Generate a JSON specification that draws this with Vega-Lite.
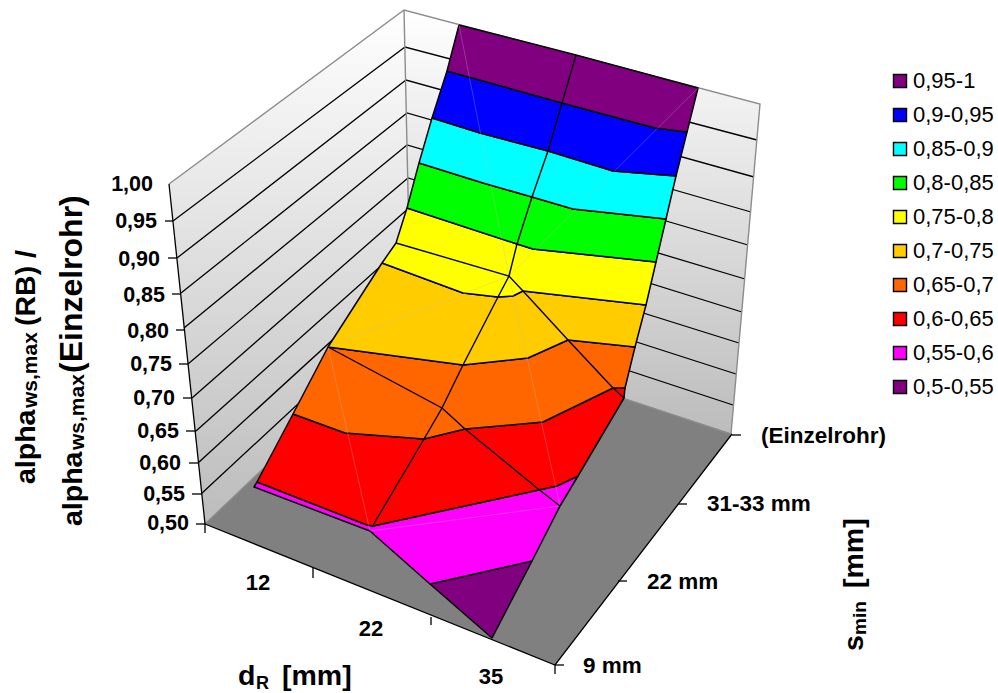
{
"$schema":"https://vega.github.io/schema/vega-lite/v6.json",
"width":998,"height":693,"padding":0,
"autosize":{"type":"fit","contains":"padding"},
"background":"white",
"config":{"view":{"stroke":null},"font":"Liberation Sans"},
"datasets":{
"walls":[
{"w":"left","o":1,"u":169,"v":184},{"w":"left","o":2,"u":404,"v":10},{"w":"left","o":3,"u":411,"v":328},{"w":"left","o":4,"u":205,"v":524},
{"w":"back","o":1,"u":404,"v":10},{"w":"back","o":2,"u":760,"v":104},{"w":"back","o":3,"u":731,"v":434},{"w":"back","o":4,"u":411,"v":328}],
"floor":[{"o":1,"u":205,"v":524},{"o":2,"u":411,"v":328},{"o":3,"u":732,"v":434},{"o":4,"u":555,"v":665}],
"grid":[
{"l":"0,95","o":1,"u":173,"v":221},{"l":"0,95","o":2,"u":405,"v":47},{"l":"0,95","o":3,"u":757,"v":140},
{"l":"0,90","o":1,"u":177,"v":258},{"l":"0,90","o":2,"u":406,"v":80},{"l":"0,90","o":3,"u":754,"v":177},
{"l":"0,85","o":1,"u":181,"v":293},{"l":"0,85","o":2,"u":407,"v":113},{"l":"0,85","o":3,"u":751,"v":212},
{"l":"0,80","o":1,"u":184,"v":328},{"l":"0,80","o":2,"u":407,"v":145},{"l":"0,80","o":3,"u":748,"v":245},
{"l":"0,75","o":1,"u":188,"v":364},{"l":"0,75","o":2,"u":408,"v":178},{"l":"0,75","o":3,"u":745,"v":279},
{"l":"0,70","o":1,"u":192,"v":398},{"l":"0,70","o":2,"u":409,"v":208},{"l":"0,70","o":3,"u":742,"v":312},
{"l":"0,65","o":1,"u":196,"v":431},{"l":"0,65","o":2,"u":410,"v":240},{"l":"0,65","o":3,"u":739,"v":343},
{"l":"0,60","o":1,"u":198,"v":463},{"l":"0,60","o":2,"u":410,"v":269},{"l":"0,60","o":3,"u":736,"v":374},
{"l":"0,55","o":1,"u":201,"v":494},{"l":"0,55","o":2,"u":411,"v":299},{"l":"0,55","o":3,"u":733,"v":405}],
"edges":[
{"l":"top","o":1,"u":169,"v":184},{"l":"top","o":2,"u":404,"v":10},{"l":"top","o":3,"u":760,"v":104},{"l":"top","o":4,"u":731,"v":434},
{"l":"corner","o":1,"u":404,"v":10},{"l":"corner","o":2,"u":411,"v":328},
{"l":"floorleft","o":1,"u":205,"v":524},{"l":"floorleft","o":2,"u":411,"v":328},{"l":"floorleft","o":3,"u":731,"v":434}],
"axes":[
{"l":"val","o":1,"u":169,"v":184},{"l":"val","o":2,"u":205,"v":524},
{"l":"front","o":1,"u":205,"v":524},{"l":"front","o":2,"u":555,"v":665},{"l":"front","o":3,"u":732,"v":434},
{"l":"t95","o":1,"u":165,"v":221},{"l":"t95","o":2,"u":173,"v":221},
{"l":"t90","o":1,"u":168,"v":258},{"l":"t90","o":2,"u":177,"v":258},
{"l":"t85","o":1,"u":172,"v":294},{"l":"t85","o":2,"u":181,"v":294},
{"l":"t80","o":1,"u":176,"v":330},{"l":"t80","o":2,"u":185,"v":330},
{"l":"t75","o":1,"u":179,"v":364},{"l":"t75","o":2,"u":188,"v":364},
{"l":"t70","o":1,"u":183,"v":398},{"l":"t70","o":2,"u":192,"v":398},
{"l":"t65","o":1,"u":186,"v":431},{"l":"t65","o":2,"u":196,"v":431},
{"l":"t60","o":1,"u":189,"v":463},{"l":"t60","o":2,"u":198,"v":463},
{"l":"t55","o":1,"u":192,"v":494},{"l":"t55","o":2,"u":201,"v":494},
{"l":"t50","o":1,"u":196,"v":524},{"l":"t50","o":2,"u":205,"v":524},
{"l":"d0","o":1,"u":205,"v":524},{"l":"d0","o":2,"u":205,"v":533},
{"l":"d1","o":1,"u":313,"v":568},{"l":"d1","o":2,"u":313,"v":578},
{"l":"d2","o":1,"u":431,"v":617},{"l":"d2","o":2,"u":431,"v":625},
{"l":"d3","o":1,"u":555,"v":665},{"l":"d3","o":2,"u":555,"v":674},
{"l":"s0","o":1,"u":555,"v":665},{"l":"s0","o":2,"u":564,"v":665},
{"l":"s1","o":1,"u":618,"v":581},{"l":"s1","o":2,"u":627,"v":581},
{"l":"s2","o":1,"u":678,"v":504},{"l":"s2","o":2,"u":687,"v":504},
{"l":"s3","o":1,"u":732,"v":435},{"l":"s3","o":2,"u":741,"v":435}],
"bands":[
{"b":"0,5-0,55","o":1,"u":430,"v":584},{"b":"0,5-0,55","o":2,"u":532,"v":561},{"b":"0,5-0,55","o":3,"u":492,"v":638},{"b":"0,5-0,55","o":4,"u":430,"v":584},
{"b":"0,55-0,6","o":1,"u":257,"v":482},{"b":"0,55-0,6","o":2,"u":367,"v":525},{"b":"0,55-0,6","o":3,"u":373,"v":526},{"b":"0,55-0,6","o":4,"u":557,"v":486},{"b":"0,55-0,6","o":5,"u":578,"v":476},{"b":"0,55-0,6","o":6,"u":560,"v":506},{"b":"0,55-0,6","o":7,"u":532,"v":561},{"b":"0,55-0,6","o":8,"u":430,"v":584},{"b":"0,55-0,6","o":9,"u":370,"v":531},{"b":"0,55-0,6","o":10,"u":254,"v":487},{"b":"0,55-0,6","o":11,"u":257,"v":482},
{"b":"0,6-0,65","o":1,"u":293,"v":414},{"b":"0,6-0,65","o":2,"u":345,"v":433},{"b":"0,6-0,65","o":3,"u":424,"v":439},{"b":"0,6-0,65","o":4,"u":465,"v":429},{"b":"0,6-0,65","o":5,"u":543,"v":422},{"b":"0,6-0,65","o":6,"u":613,"v":388},{"b":"0,6-0,65","o":7,"u":625,"v":388},{"b":"0,6-0,65","o":8,"u":624,"v":398},{"b":"0,6-0,65","o":9,"u":578,"v":476},{"b":"0,6-0,65","o":10,"u":557,"v":486},{"b":"0,6-0,65","o":11,"u":373,"v":526},{"b":"0,6-0,65","o":12,"u":367,"v":525},{"b":"0,6-0,65","o":13,"u":257,"v":482},{"b":"0,6-0,65","o":14,"u":293,"v":414},
{"b":"0,65-0,7","o":1,"u":328,"v":347},{"b":"0,65-0,7","o":2,"u":463,"v":365},{"b":"0,65-0,7","o":3,"u":528,"v":358},{"b":"0,65-0,7","o":4,"u":568,"v":340},{"b":"0,65-0,7","o":5,"u":635,"v":347},{"b":"0,65-0,7","o":6,"u":625,"v":388},{"b":"0,65-0,7","o":7,"u":613,"v":388},{"b":"0,65-0,7","o":8,"u":543,"v":422},{"b":"0,65-0,7","o":9,"u":465,"v":429},{"b":"0,65-0,7","o":10,"u":424,"v":439},{"b":"0,65-0,7","o":11,"u":345,"v":433},{"b":"0,65-0,7","o":12,"u":293,"v":414},{"b":"0,65-0,7","o":13,"u":328,"v":347},
{"b":"0,7-0,75","o":1,"u":382,"v":263},{"b":"0,7-0,75","o":2,"u":463,"v":293},{"b":"0,7-0,75","o":3,"u":498,"v":297},{"b":"0,7-0,75","o":4,"u":513,"v":296},{"b":"0,7-0,75","o":5,"u":523,"v":291},{"b":"0,7-0,75","o":6,"u":646,"v":305},{"b":"0,7-0,75","o":7,"u":635,"v":347},{"b":"0,7-0,75","o":8,"u":568,"v":340},{"b":"0,7-0,75","o":9,"u":528,"v":358},{"b":"0,7-0,75","o":10,"u":463,"v":365},{"b":"0,7-0,75","o":11,"u":328,"v":347},{"b":"0,7-0,75","o":12,"u":382,"v":263},
{"b":"0,75-0,8","o":1,"u":407,"v":208},{"b":"0,75-0,8","o":2,"u":517,"v":244},{"b":"0,75-0,8","o":3,"u":533,"v":249},{"b":"0,75-0,8","o":4,"u":656,"v":262},{"b":"0,75-0,8","o":5,"u":646,"v":305},{"b":"0,75-0,8","o":6,"u":523,"v":291},{"b":"0,75-0,8","o":7,"u":513,"v":296},{"b":"0,75-0,8","o":8,"u":498,"v":297},{"b":"0,75-0,8","o":9,"u":463,"v":293},{"b":"0,75-0,8","o":10,"u":382,"v":263},{"b":"0,75-0,8","o":11,"u":396,"v":243},{"b":"0,75-0,8","o":12,"u":407,"v":208},
{"b":"0,8-0,85","o":1,"u":419,"v":163},{"b":"0,8-0,85","o":2,"u":483,"v":183},{"b":"0,8-0,85","o":3,"u":532,"v":197},{"b":"0,8-0,85","o":4,"u":573,"v":209},{"b":"0,8-0,85","o":5,"u":666,"v":219},{"b":"0,8-0,85","o":6,"u":656,"v":262},{"b":"0,8-0,85","o":7,"u":533,"v":249},{"b":"0,8-0,85","o":8,"u":517,"v":244},{"b":"0,8-0,85","o":9,"u":407,"v":208},{"b":"0,8-0,85","o":10,"u":419,"v":163},
{"b":"0,85-0,9","o":1,"u":432,"v":118},{"b":"0,85-0,9","o":2,"u":480,"v":133},{"b":"0,85-0,9","o":3,"u":548,"v":151},{"b":"0,85-0,9","o":4,"u":613,"v":171},{"b":"0,85-0,9","o":5,"u":676,"v":176},{"b":"0,85-0,9","o":6,"u":666,"v":219},{"b":"0,85-0,9","o":7,"u":573,"v":209},{"b":"0,85-0,9","o":8,"u":532,"v":197},{"b":"0,85-0,9","o":9,"u":483,"v":183},{"b":"0,85-0,9","o":10,"u":419,"v":163},{"b":"0,85-0,9","o":11,"u":432,"v":118},
{"b":"0,9-0,95","o":1,"u":447,"v":71},{"b":"0,9-0,95","o":2,"u":562,"v":103},{"b":"0,9-0,95","o":3,"u":655,"v":128},{"b":"0,9-0,95","o":4,"u":687,"v":132},{"b":"0,9-0,95","o":5,"u":676,"v":176},{"b":"0,9-0,95","o":6,"u":613,"v":171},{"b":"0,9-0,95","o":7,"u":548,"v":151},{"b":"0,9-0,95","o":8,"u":480,"v":133},{"b":"0,9-0,95","o":9,"u":432,"v":118},{"b":"0,9-0,95","o":10,"u":447,"v":71},
{"b":"0,95-1","o":1,"u":459,"v":25},{"b":"0,95-1","o":2,"u":576,"v":55},{"b":"0,95-1","o":3,"u":698,"v":88},{"b":"0,95-1","o":4,"u":687,"v":132},{"b":"0,95-1","o":5,"u":655,"v":128},{"b":"0,95-1","o":6,"u":562,"v":103},{"b":"0,95-1","o":7,"u":447,"v":71},{"b":"0,95-1","o":8,"u":459,"v":25}],
"faint":[
{"l":"a","o":1,"u":459,"v":25},{"l":"a","o":2,"u":509,"v":276},{"l":"a","o":3,"u":560,"v":506},
{"l":"b","o":1,"u":698,"v":88},{"l":"b","o":2,"u":509,"v":276},{"l":"b","o":3,"u":328,"v":347},
{"l":"c","o":1,"u":328,"v":347},{"l":"c","o":2,"u":370,"v":531},
{"l":"d","o":1,"u":370,"v":531},{"l":"d","o":2,"u":560,"v":506}],
"mesh":[
{"l":"col","o":1,"u":576,"v":55},{"l":"col","o":2,"u":562,"v":103},{"l":"col","o":3,"u":548,"v":151},{"l":"col","o":4,"u":532,"v":197},{"l":"col","o":5,"u":517,"v":244},{"l":"col","o":6,"u":509,"v":276},{"l":"col","o":7,"u":498,"v":297},{"l":"col","o":8,"u":463,"v":365},{"l":"col","o":9,"u":442,"v":408},{"l":"col","o":10,"u":424,"v":439},{"l":"col","o":11,"u":372,"v":527},
{"l":"row1","o":1,"u":396,"v":243},{"l":"row1","o":2,"u":509,"v":276},{"l":"row1","o":3,"u":523,"v":291},{"l":"row1","o":4,"u":568,"v":340},{"l":"row1","o":5,"u":613,"v":388},{"l":"row1","o":6,"u":624,"v":398},
{"l":"row2","o":1,"u":328,"v":347},{"l":"row2","o":2,"u":442,"v":408},{"l":"row2","o":3,"u":465,"v":429},{"l":"row2","o":4,"u":537,"v":488},{"l":"row2","o":5,"u":560,"v":506}],
"ticklabels":[
{"t":"1,00","u":153,"v":185},{"t":"0,95","u":157,"v":222},{"t":"0,90","u":160,"v":260},{"t":"0,85","u":165,"v":296},{"t":"0,80","u":169,"v":332},{"t":"0,75","u":172,"v":365},{"t":"0,70","u":175,"v":399},{"t":"0,65","u":179,"v":432},{"t":"0,60","u":181,"v":464},{"t":"0,55","u":185,"v":495},{"t":"0,50","u":189,"v":524}],
"dlabels":[{"t":"12","u":258,"v":583},{"t":"22","u":371,"v":629},{"t":"35","u":491,"v":677}],
"slabels":[{"t":"(Einzelrohr)","u":761,"v":436},{"t":"31-33 mm","u":707,"v":504},{"t":"22 mm","u":647,"v":582},{"t":"9 mm","u":583,"v":666}],
"titleBig":[{"t":"d","u":238,"v":685},{"t":"[mm]","u":282,"v":685}],
"titleSub":[{"t":"R","u":256,"v":689}],
"rotBig":[{"t":"alpha","u":35,"v":484},{"t":"(RB) /","u":35,"v":326},{"t":"alpha","u":82,"v":526},{"t":"s","u":863,"v":651},{"t":"[mm]","u":863,"v":588}],
"rotWide":[{"t":"(Einzelrohr)","u":82,"v":373}],
"rotSub":[{"t":"ws,max","u":37,"v":408},{"t":"ws,max","u":84,"v":450}],
"rotSubSmall":[{"t":"min","u":866,"v":635}]
},
"layer":[
{"data":{"name":"walls"},"transform":[{"filter":"datum.w==='left'"}],"mark":{"type":"line","strokeWidth":0,"fill":{"gradient":"linear","x1":0,"y1":0,"x2":0,"y2":1,"stops":[{"offset":0,"color":"#ffffff"},{"offset":1,"color":"#bcbcbc"}]}},"encoding":{"x":{"field":"u","type":"quantitative","scale":{"domain":[0,998],"nice":false,"zero":false},"axis":null},"y":{"field":"v","type":"quantitative","scale":{"domain":[693,0],"nice":false,"zero":false},"axis":null},"order":{"field":"o"}}},
{"data":{"name":"walls"},"transform":[{"filter":"datum.w==='back'"}],"mark":{"type":"line","strokeWidth":0,"fill":{"gradient":"linear","x1":0,"y1":0,"x2":0,"y2":1,"stops":[{"offset":0,"color":"#ffffff"},{"offset":1,"color":"#bcbcbc"}]}},"encoding":{"x":{"field":"u","type":"quantitative","axis":null},"y":{"field":"v","type":"quantitative","axis":null},"order":{"field":"o"}}},
{"data":{"name":"grid"},"mark":{"type":"line","color":"#000000","strokeWidth":1.3},"encoding":{"x":{"field":"u","type":"quantitative"},"y":{"field":"v","type":"quantitative"},"detail":{"field":"l"},"order":{"field":"o"}}},
{"data":{"name":"floor"},"mark":{"type":"line","strokeWidth":0,"fill":"#808080"},"encoding":{"x":{"field":"u","type":"quantitative"},"y":{"field":"v","type":"quantitative"},"order":{"field":"o"}}},
{"data":{"name":"edges"},"mark":{"type":"line","color":"#8c8c8c","strokeWidth":1.4},"encoding":{"x":{"field":"u","type":"quantitative"},"y":{"field":"v","type":"quantitative"},"detail":{"field":"l"},"order":{"field":"o"}}},
{"data":{"name":"axes"},"mark":{"type":"line","color":"#000000","strokeWidth":1.3},"encoding":{"x":{"field":"u","type":"quantitative"},"y":{"field":"v","type":"quantitative"},"detail":{"field":"l"},"order":{"field":"o"}}},
{"data":{"name":"bands"},"mark":{"type":"line","stroke":"#000000","strokeWidth":1.5,"strokeJoin":"round"},"encoding":{"x":{"field":"u","type":"quantitative"},"y":{"field":"v","type":"quantitative"},"order":{"field":"o"},"detail":{"field":"b"},
"fill":{"field":"b","type":"nominal","scale":{"domain":["0,95-1","0,9-0,95","0,85-0,9","0,8-0,85","0,75-0,8","0,7-0,75","0,65-0,7","0,6-0,65","0,55-0,6","0,5-0,55"],"range":["#800080","#0000ff","#00ffff","#00ff00","#ffff00","#ffcc00","#ff6600","#ff0000","#ff00ff","#800080"]},
"legend":{"orient":"none","legendX":889,"legendY":71,"title":null,"symbolType":"square","symbolSize":170,"symbolStrokeColor":"#000000","symbolStrokeWidth":1.4,"symbolOpacity":1,"labelFont":"Liberation Sans","labelFontSize":22,"labelColor":"#000000","labelOffset":2,"rowPadding":12,"clipHeight":20,"labelLimit":200}}}},
{"data":{"name":"faint"},"mark":{"type":"line","color":"#bbbbbb","strokeWidth":0.6,"opacity":0.5},"encoding":{"x":{"field":"u","type":"quantitative"},"y":{"field":"v","type":"quantitative"},"detail":{"field":"l"},"order":{"field":"o"}}},
{"data":{"name":"mesh"},"mark":{"type":"line","color":"#000000","strokeWidth":1.4},"encoding":{"x":{"field":"u","type":"quantitative"},"y":{"field":"v","type":"quantitative"},"detail":{"field":"l"},"order":{"field":"o"}}},
{"data":{"name":"ticklabels"},"mark":{"type":"text","font":"Liberation Sans","fontWeight":"bold","fontSize":21.5,"align":"right","baseline":"middle","color":"#000000"},"encoding":{"x":{"field":"u","type":"quantitative"},"y":{"field":"v","type":"quantitative"},"text":{"field":"t"}}},
{"data":{"name":"dlabels"},"mark":{"type":"text","font":"Liberation Sans","fontWeight":"bold","fontSize":22,"align":"center","baseline":"middle","color":"#000000"},"encoding":{"x":{"field":"u","type":"quantitative"},"y":{"field":"v","type":"quantitative"},"text":{"field":"t"}}},
{"data":{"name":"slabels"},"mark":{"type":"text","font":"Liberation Sans","fontWeight":"bold","fontSize":22.5,"align":"left","baseline":"middle","color":"#000000"},"encoding":{"x":{"field":"u","type":"quantitative"},"y":{"field":"v","type":"quantitative"},"text":{"field":"t"}}},
{"data":{"name":"titleBig"},"mark":{"type":"text","font":"Liberation Sans","fontWeight":"bold","fontSize":28.5,"align":"left","baseline":"alphabetic","color":"#000000"},"encoding":{"x":{"field":"u","type":"quantitative"},"y":{"field":"v","type":"quantitative"},"text":{"field":"t"}}},
{"data":{"name":"titleSub"},"mark":{"type":"text","font":"Liberation Sans","fontWeight":"bold","fontSize":18,"align":"left","baseline":"alphabetic","color":"#000000"},"encoding":{"x":{"field":"u","type":"quantitative"},"y":{"field":"v","type":"quantitative"},"text":{"field":"t"}}},
{"data":{"name":"rotBig"},"mark":{"type":"text","font":"Liberation Sans","fontWeight":"bold","fontSize":28.5,"angle":270,"align":"left","baseline":"alphabetic","color":"#000000"},"encoding":{"x":{"field":"u","type":"quantitative"},"y":{"field":"v","type":"quantitative"},"text":{"field":"t"}}},
{"data":{"name":"rotWide"},"mark":{"type":"text","font":"Liberation Sans","fontWeight":"bold","fontSize":32,"angle":270,"align":"left","baseline":"alphabetic","color":"#000000"},"encoding":{"x":{"field":"u","type":"quantitative"},"y":{"field":"v","type":"quantitative"},"text":{"field":"t"}}},
{"data":{"name":"rotSub"},"mark":{"type":"text","font":"Liberation Sans","fontWeight":"bold","fontSize":21,"angle":270,"align":"left","baseline":"alphabetic","color":"#000000"},"encoding":{"x":{"field":"u","type":"quantitative"},"y":{"field":"v","type":"quantitative"},"text":{"field":"t"}}},
{"data":{"name":"rotSubSmall"},"mark":{"type":"text","font":"Liberation Sans","fontWeight":"bold","fontSize":19,"angle":270,"align":"left","baseline":"alphabetic","color":"#000000"},"encoding":{"x":{"field":"u","type":"quantitative"},"y":{"field":"v","type":"quantitative"},"text":{"field":"t"}}}
]
}
